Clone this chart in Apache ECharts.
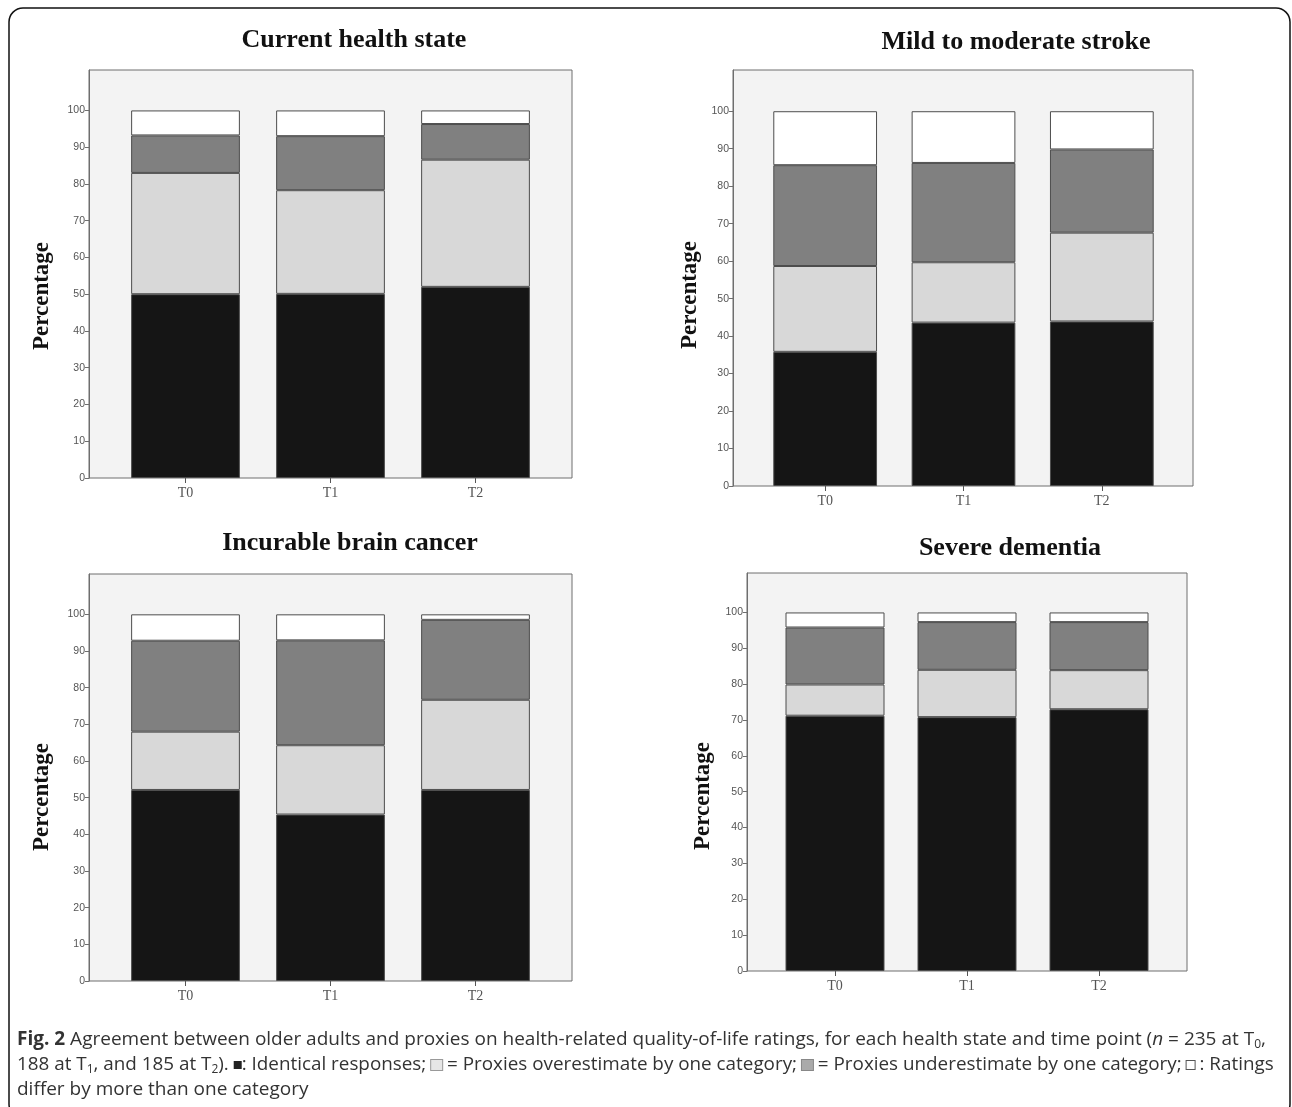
<!DOCTYPE html>
<html>
<head>
<meta charset="utf-8">
<script src="https://cdn.jsdelivr.net/npm/echarts@6/dist/echarts.min.js"></script>
<style>html,body{margin:0;padding:0;background:#fff}#c{width:1292px;height:1107px}</style>
</head>
<body>
<div id="c"></div>
<script>
// ---- data ----
const timePoints = ['T0', 'T1', 'T2'];
const yTickValues = [0, 10, 20, 30, 40, 50, 60, 70, 80, 90, 100];
const panelTitles = ['Current health state', 'Mild to moderate stroke', 'Incurable brain cancer', 'Severe dementia'];
const seriesNames = ['Identical responses', 'Proxies overestimate by one category', 'Proxies underestimate by one category', 'Ratings differ by more than one category'];

const identicalCurrent = [50.0, 50.1, 52.0];
const overCurrent      = [33.0, 28.2, 34.6];
const underCurrent     = [10.2, 14.7, 9.7];
const differCurrent    = [6.8, 7.0, 3.7];

const identicalStroke = [35.8, 43.6, 43.9];
const overStroke      = [22.9, 16.1, 23.7];
const underStroke     = [26.9, 26.5, 22.2];
const differStroke    = [14.4, 13.8, 10.2];

const identicalCancer = [52.1, 45.4, 52.1];
const overCancer      = [15.9, 18.9, 24.6];
const underCancer     = [24.8, 28.6, 21.8];
const differCancer    = [7.2, 7.1, 1.5];

const identicalDementia = [71.2, 70.8, 73.0];
const overDementia      = [8.7, 13.2, 10.9];
const underDementia     = [15.9, 13.3, 13.4];
const differDementia    = [4.2, 2.7, 2.7];

const panelData = [
  [identicalCurrent, overCurrent, underCurrent, differCurrent],
  [identicalStroke, overStroke, underStroke, differStroke],
  [identicalCancer, overCancer, underCancer, differCancer],
  [identicalDementia, overDementia, underDementia, differDementia]
];

// ---- layout / style ----
const segColors = ['#151515', '#d8d8d8', '#808080', '#ffffff'];
const Y_MAX = 111;
const layout = [
  { frame: [89, 70, 483, 408], inner: [113, 435], title: [354, 40], ylab: [42, 296] },
  { frame: [733, 70, 460, 416], inner: [756, 415], title: [1016, 42], ylab: [690, 295] },
  { frame: [89, 574, 483, 407], inner: [113, 435], title: [350, 543], ylab: [42, 797] },
  { frame: [747, 573, 440, 398], inner: [769, 396], title: [1010, 548], ylab: [703, 796] }
];

const grid = [], xAxis = [], yAxis = [], series = [], graphic = [];
layout.forEach((L, p) => {
  const [fl, ft, fw, fh] = L.frame;
  const outerIdx = grid.length;
  grid.push({ left: fl, top: ft, width: fw, height: fh, show: true, backgroundColor: '#f3f3f3', borderColor: '#6e6e6e', borderWidth: 1, containLabel: false });
  const innerIdx = grid.length;
  grid.push({ left: L.inner[0], top: ft, width: L.inner[1], height: fh, containLabel: false });

  xAxis.push({ type: 'value', gridIndex: outerIdx, show: false, min: 0, max: 1 });
  yAxis.push({
    type: 'value', gridIndex: outerIdx, min: 0, max: Y_MAX,
    axisLine: { show: true, lineStyle: { color: '#6e6e6e', width: 1 } },
    axisTick: { show: true, length: 4, customValues: yTickValues, lineStyle: { color: '#6e6e6e' } },
    axisLabel: { show: true, customValues: yTickValues, margin: 4, color: '#555', fontSize: 10.5, fontFamily: 'Liberation Sans, Arial, sans-serif' },
    splitLine: { show: false }
  });
  const xIdx = xAxis.length;
  xAxis.push({
    type: 'category', gridIndex: innerIdx, data: timePoints,
    axisLine: { show: false },
    axisTick: { show: true, alignWithLabel: true, length: 5, lineStyle: { color: '#555' } },
    axisLabel: { margin: 8, color: '#555', fontSize: 14, fontFamily: 'Liberation Serif, Times New Roman, serif' },
    splitLine: { show: false }
  });
  const yIdx = yAxis.length;
  yAxis.push({ type: 'value', gridIndex: innerIdx, min: 0, max: Y_MAX, show: false, splitLine: { show: false } });

  panelData[p].forEach((vals, s) => {
    series.push({
      type: 'bar', name: seriesNames[s], stack: 'p' + p, xAxisIndex: xIdx, yAxisIndex: yIdx,
      data: vals, barCategoryGap: '25%',
      itemStyle: { color: segColors[s], borderColor: '#4d4d4d', borderWidth: 1 },
      emphasis: { disabled: true }, silent: true
    });
  });

  graphic.push({
    type: 'text', x: L.title[0], y: L.title[1],
    style: { text: panelTitles[p], align: 'center', verticalAlign: 'middle', fill: '#111', font: 'bold 26px "Liberation Serif", "Times New Roman", serif' }
  });
  graphic.push({
    type: 'text', x: L.ylab[0], y: L.ylab[1], rotation: Math.PI / 2,
    style: { text: 'Percentage', align: 'center', verticalAlign: 'middle', fill: '#111', font: 'bold 23px "Liberation Serif", "Times New Roman", serif' }
  });
});

// outer rounded frame
graphic.push({
  type: 'rect', shape: { x: 9, y: 8, width: 1281, height: 1110, r: 14 }, z: -1,
  style: { fill: 'none', stroke: '#111', lineWidth: 1.5 }
});

// caption
const capFont = '"Open Sans", "Noto Sans", sans-serif';
const capSize = 19;
const capRich = {
  b: { fontWeight: 'bold', fontFamily: capFont, fontSize: capSize, color: '#222' },
  i: { fontStyle: 'italic', fontFamily: capFont, fontSize: capSize, color: '#333' },
  s: { fontFamily: capFont, fontSize: 12, color: '#333', verticalAlign: 'bottom', padding: [10, 0, 0, 0] },
  k: { width: 8, height: 8, backgroundColor: '#222' },
  l: { width: 11, height: 10, backgroundColor: '#e6e6e6', borderColor: '#999', borderWidth: 1 },
  d: { width: 11, height: 10, backgroundColor: '#aaaaaa', borderColor: '#888', borderWidth: 1 },
  w: { width: 8, height: 8, backgroundColor: '#fff', borderColor: '#555', borderWidth: 1 }
};
const capLines = [
  '{b|Fig. 2} Agreement between older adults and proxies on health-related quality-of-life ratings, for each health state and time point ({i|n} = 235 at T{s|0},',
  '188 at T{s|1}, and 185 at T{s|2}). {k| }: Identical responses; {l| } = Proxies overestimate by one category; {d| } = Proxies underestimate by one category; {w| } : Ratings',
  'differ by more than one category'
];
const capY = [1040, 1065, 1090];
const capSizes = [19, 18.85, 19];
capLines.forEach((t, i) => {
  graphic.push({
    type: 'text', x: 17, y: capY[i],
    style: { text: t, rich: capRich, align: 'left', verticalAlign: 'middle', fill: '#333', fontSize: capSizes[i], fontFamily: capFont }
  });
});

const chart = echarts.init(document.getElementById('c'), null, { renderer: 'canvas', width: 1292, height: 1107 });
chart.setOption({
  animation: false,
  backgroundColor: '#ffffff',
  grid, xAxis, yAxis, series, graphic,
  legend: { show: false },
  tooltip: { show: false }
});
</script>
</body>
</html>
